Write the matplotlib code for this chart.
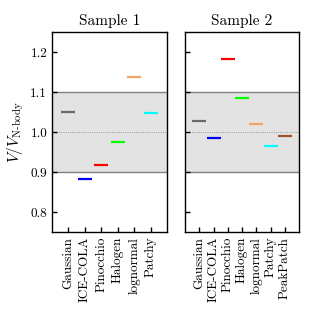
import matplotlib
matplotlib.use("Agg")
import matplotlib.pyplot as plt

plt.rcParams["font.family"] = "serif"
plt.rcParams["font.serif"] = ["cmr10"]
plt.rcParams["mathtext.fontset"] = "cm"
plt.rcParams["axes.formatter.use_mathtext"] = True

names_1 = ["Gaussian", "ICE-COLA", "Pinocchio", "Halogen", "lognormal", "Patchy"]
ratio_1 = [1.050, 0.882, 0.917, 0.975, 1.138, 1.048]

names_2 = ["Gaussian", "ICE-COLA", "Pinocchio", "Halogen", "lognormal", "Patchy", "PeakPatch"]
ratio_2 = [1.028, 0.986, 1.183, 1.084, 1.021, 0.965, 0.991]

colors = {
    "Gaussian": "dimgray",
    "ICE-COLA": "blue",
    "Pinocchio": "red",
    "Halogen": "lime",
    "lognormal": "sandybrown",
    "Patchy": "cyan",
    "PeakPatch": "sienna",
}

yticks = [0.8, 0.9, 1.0, 1.1, 1.2]

fig = plt.figure(figsize=(3.15, 3.15), dpi=100)
ax1 = fig.add_axes([52 / 315, 1 - 232 / 315, 115 / 315, 200 / 315])
ax2 = fig.add_axes([185 / 315, 1 - 232 / 315, 114 / 315, 200 / 315])

for ax, names, ratio, title in [(ax1, names_1, ratio_1, "Sample 1"),
                                 (ax2, names_2, ratio_2, "Sample 2")]:
    n = len(names)
    ax.axhspan(0.9, 1.1, color="#e3e3e3", lw=0, zorder=0)
    ax.axhline(0.9, color="gray", lw=1.0, zorder=1)
    ax.axhline(1.1, color="gray", lw=1.0, zorder=1)
    ax.axhline(1.0, color="gray", lw=0.6, ls=":", zorder=1)
    for i, (name, r) in enumerate(zip(names, ratio)):
        ax.plot(i, r, marker="_", ms=10, mew=1.6, color=colors[name], zorder=3)
    ax.set_xlim(-1, n)
    ax.set_ylim(0.75, 1.25)
    ax.set_xticks(range(n))
    ax.set_xticklabels(names, rotation=90, fontsize=9.5)
    ax.set_yticks(yticks)
    ax.tick_params(direction="in", length=3.5, width=1.0, labelsize=9.5)
    ax.set_title(title, fontsize=11, pad=5)
    for s in ax.spines.values():
        s.set_linewidth(1.0)

ax1.set_yticklabels([f"{t:.1f}" for t in yticks])
ax2.set_yticklabels([])
ax1.set_ylabel(r"$V/V_{\text{N-body}}$", fontsize=11, labelpad=3)

fig.savefig("out.png", dpi=100)
